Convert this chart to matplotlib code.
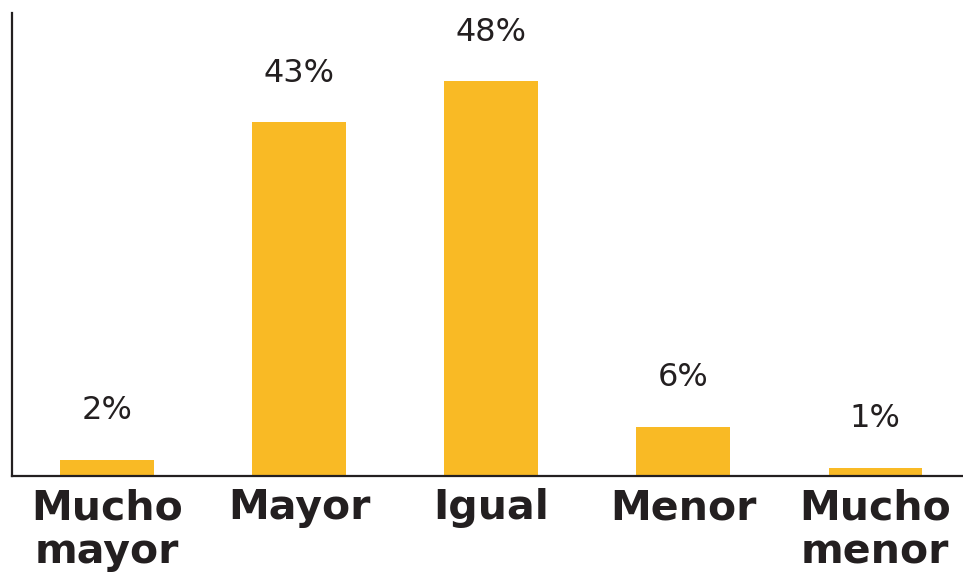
import matplotlib
matplotlib.use("Agg")
import matplotlib.pyplot as plt

categories = ["Mucho\nmayor", "Mayor", "Igual", "Menor", "Mucho\nmenor"]
values = [2, 43, 48, 6, 1]
value_labels = ["2%", "43%", "48%", "6%", "1%"]

bar_color = "#F9BA25"
text_color = "#231F20"

fig = plt.figure(figsize=(9.63, 5.78), dpi=100)
ax = fig.add_axes([12/963, 102/578, 951/963, 463/578])

x = list(range(len(categories)))
ax.bar(x, values, width=0.485, color=bar_color, zorder=2)

for xi, v, lab in zip(x, values, value_labels):
    ax.annotate(lab, xy=(xi, v), xytext=(0, 29), textcoords="offset points",
                ha="center", va="baseline", fontsize=23, color=text_color,
                family="DejaVu Sans")

ax.set_xlim(-0.495, 4.458)
ax.set_ylim(0, 56.3)
ax.set_xticks(x)
ax.set_xticklabels(categories, fontsize=29.5, fontweight="bold", color=text_color,
                   family="DejaVu Sans", linespacing=1.12)
ax.tick_params(axis="x", length=0, pad=9)
ax.set_yticks([])
for s in ["top", "right"]:
    ax.spines[s].set_visible(False)
for s in ["left", "bottom"]:
    ax.spines[s].set_color(text_color)
    ax.spines[s].set_linewidth(1.6)

fig.savefig("out.png", dpi=100)
